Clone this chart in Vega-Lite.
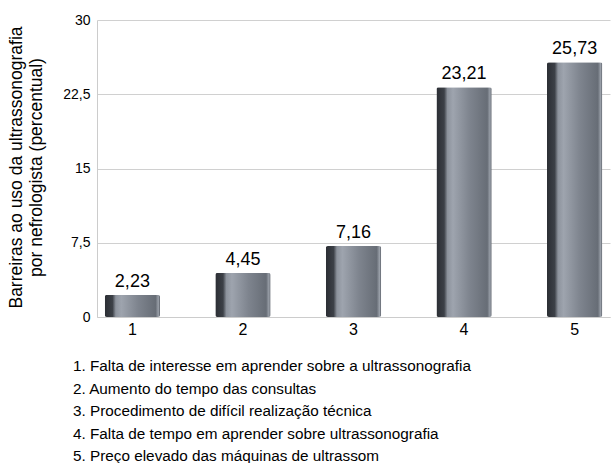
{
  "$schema": "https://vega.github.io/schema/vega-lite/v6.json",
  "autosize": "none",
  "width": 513,
  "height": 297,
  "padding": {"left": 97, "top": 20, "right": 4, "bottom": 146},
  "background": "white",
  "config": {
    "locale": {"number": {"decimal": ",", "thousands": ".", "grouping": [3], "currency": ["R$", ""]}},
    "view": {"stroke": null},
    "font": "Liberation Sans"
  },
  "title": {
    "text": [
      "1. Falta de interesse em aprender sobre a ultrassonografia",
      "2. Aumento do tempo das consultas",
      "3. Procedimento de difícil realização técnica",
      "4. Falta de tempo em aprender sobre ultrassonografia",
      "5. Preço elevado das máquinas de ultrassom"
    ],
    "orient": "bottom",
    "anchor": "start",
    "frame": "group",
    "align": "left",
    "dx": -24,
    "offset": 22,
    "fontSize": 15.3,
    "fontWeight": "normal",
    "lineHeight": 22.5,
    "color": "black"
  },
  "data": {
    "values": [
      {"item": "1", "valor": 2.23},
      {"item": "2", "valor": 4.45},
      {"item": "3", "valor": 7.16},
      {"item": "4", "valor": 23.21},
      {"item": "5", "valor": 25.73}
    ]
  },
  "encoding": {
    "x": {
      "field": "item",
      "type": "nominal",
      "scale": {"paddingInner": 0.5, "paddingOuter": 0.07},
      "axis": {
        "title": null,
        "labelAngle": 0,
        "labelFontSize": 16,
        "labelColor": "black",
        "labelPadding": 4,
        "ticks": false,
        "domainColor": "#cccccc"
      }
    },
    "y": {
      "field": "valor",
      "type": "quantitative",
      "scale": {"domain": [0, 30]},
      "axis": {
        "values": [0, 7.5, 15, 22.5, 30],
        "format": ".1~f",
        "title": ["Barreiras  ao uso da ultrassonografia", "por nefrologista (percentual)"],
        "titleFontSize": 17.5,
        "titleFontWeight": "normal",
        "titleColor": "black",
        "titleAngle": -90,
        "titleAlign": "center",
        "titleBaseline": "top",
        "titleX": -90,
        "titleY": 147,
        "titleLineHeight": 20,
        "labelFontSize": 14,
        "labelColor": "black",
        "labelPadding": 7,
        "ticks": false,
        "domainColor": "#cccccc",
        "gridColor": "#d0d0d0"
      }
    }
  },
  "layer": [
    {
      "mark": {
        "type": "bar",
        "cornerRadius": 2,
        "color": {
          "x1": 0, "y1": 0, "x2": 1, "y2": 0,
          "gradient": "linear",
          "stops": [
            {"offset": 0, "color": "#2b2e34"},
            {"offset": 0.14, "color": "#3c4047"},
            {"offset": 0.2, "color": "#8d939d"},
            {"offset": 0.3, "color": "#9ea4ae"},
            {"offset": 0.6, "color": "#7e848e"},
            {"offset": 0.92, "color": "#676d76"},
            {"offset": 0.97, "color": "#9aa0a9"},
            {"offset": 1, "color": "#5a5f68"}
          ]
        }
      }
    },
    {
      "mark": {"type": "text", "dy": -13, "fontSize": 18, "color": "black"},
      "encoding": {"text": {"field": "valor", "type": "quantitative", "format": ".2f"}}
    }
  ]
}
